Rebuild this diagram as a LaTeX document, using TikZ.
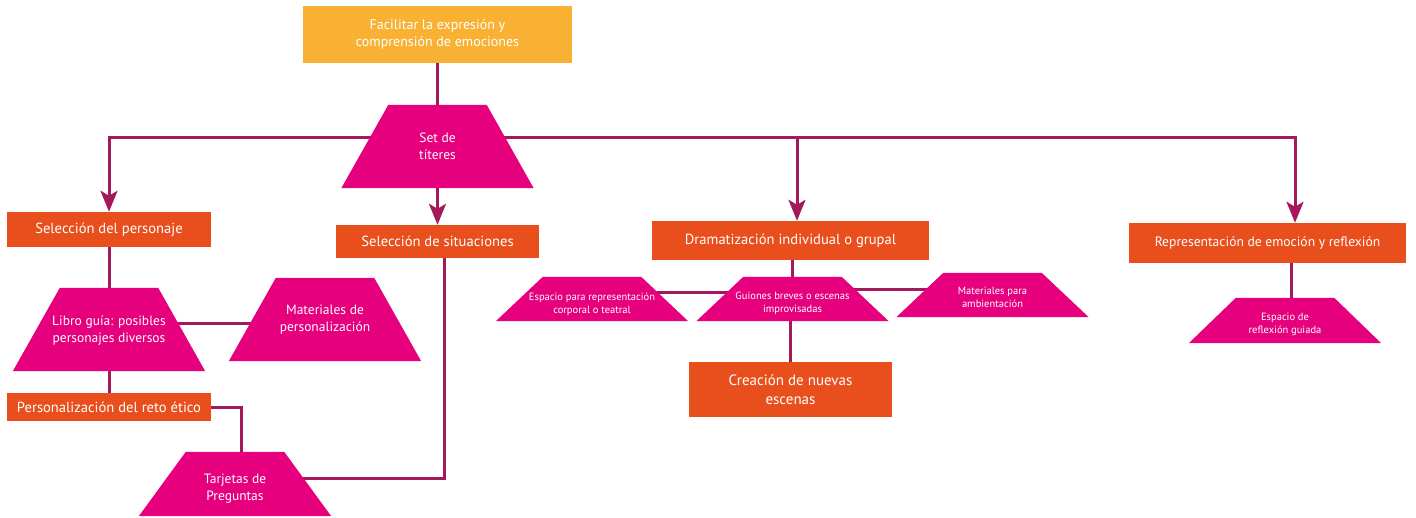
\documentclass[tikz,border=0pt]{standalone}
\usepackage{fontspec}
\setmainfont{PT Sans}
\usetikzlibrary{arrows.meta,calc}
\definecolor{cyel}{HTML}{F8B133}
\definecolor{corg}{HTML}{E94F1D}
\definecolor{cmag}{HTML}{E6007E}
\definecolor{cline}{HTML}{A3195B}
\pgfdeclarelayer{bg}
\pgfdeclarelayer{mid}
\pgfsetlayers{bg,mid,main}
\begin{document}
\begin{tikzpicture}[x=1pt,y=-1pt,
  box/.style={fill=corg, text=white, inner sep=0pt, align=center, font=\fontsize{14.6}{17}\selectfont},
  tz/.style={inner sep=0pt, minimum width=192pt, text=white, align=center, font=\fontsize{13.5}{17}\selectfont},
  tzs/.style={tz, font=\fontsize{10.5}{13}\selectfont},
  conn/.style={draw=cline, line width=3pt},
  arr/.style={conn, -{Stealth[length=21pt,width=17pt,inset=5pt]}}]
\useasboundingbox (0,0) rectangle (1416,518);
% boxes
\node[box, fill=cyel, minimum width=269pt, minimum height=57pt, font=\fontsize{14}{17}\selectfont] (top) at (437.5,34.5) {Facilitar la expresión y\\comprensión de emociones};
\node[box, minimum width=204pt, minimum height=35pt] (selp) at (109,229.5) {Selección del personaje};
\node[box, minimum width=203pt, minimum height=33pt] (sels) at (437.5,241.5) {Selección de situaciones};
\node[box, minimum width=204pt, minimum height=28pt] (pers) at (109,407) {Personalización del reto ético};
\node[box, minimum width=277pt, minimum height=39pt] (dram) at (790.5,240.5) {Dramatización individual o grupal};
\node[box, minimum width=203pt, minimum height=55pt, font=\fontsize{15}{19}\selectfont] (crea) at (790.5,389.5) {Creación de nuevas\\escenas};
\node[box, minimum width=277pt, minimum height=40pt, font=\fontsize{13.6}{17}\selectfont] (rep) at (1267.5,243) {Representación de emoción y reflexión};
% trapezoids (text shifted down by d, shape compensated in the fill)
\node[tz, minimum height=83pt] (set) at (437.5,146.5) {Set de\\títeres};
\node[tz, minimum height=83pt, yshift=-1.5pt] (libro) at (109,329.5) {Libro guía: posibles\\personajes diversos};
\node[tz, minimum height=83pt] (matp) at (325,319.5) {Materiales de\\personalización};
\node[tz, minimum height=64pt, yshift=-5pt] (tarj) at (235,484) {Tarjetas de\\Preguntas};
\node[tzs, minimum height=44pt, yshift=-5pt] (esp) at (592,299) {Espacio para representación\\corporal o teatral};
\node[tzs, minimum height=44pt, yshift=-4pt] (guion) at (792.5,299) {Guiones breves o escenas\\improvisadas};
\node[tzs, minimum height=44pt, yshift=-2pt] (matamb) at (992.5,295) {Materiales para\\ambientación};
\node[tzs, minimum height=45pt, yshift=-4pt] (refl) at (1285,320.5) {Espacio de\\reflexión guiada};
\begin{pgfonlayer}{mid}
\foreach \n/\d in {set/0,libro/1.5,matp/0,tarj/5,esp/5,guion/4,matamb/2,refl/4}
  \fill[cmag] ([yshift=\d pt]\n.south west) -- ([yshift=\d pt]\n.south east) -- ([xshift=-47pt,yshift=\d pt]\n.north east) -- ([xshift=47pt,yshift=\d pt]\n.north west) -- cycle;
\end{pgfonlayer}
% connectors
\coordinate (j1) at (109,138);
\coordinate (j2) at (797,138);
\coordinate (j3) at (1295,138);
\coordinate (s1) at (444,478);
\coordinate (g1) at (0,290);
\coordinate (g2) at (0,293);
\coordinate (g3) at (0,324);
\coordinate (k3) at (1291,0);
\begin{pgfonlayer}{bg}
\draw[conn] (top.south) -- (set.north);
\draw[arr] (set.center |- j1) -| (selp.north);
\draw[arr] (set.center |- j1) -| (j3 |- rep.north);
\draw[arr] (j2) -- (j2 |- dram.north);
\draw[arr] (set.south) -- (sels.north);
\draw[conn] (selp.south) -- (libro.center);
\draw[conn] (libro.center |- g3) -- (matp.center |- g3);
\draw[conn] (libro.center) -- (pers.north);
\draw[conn] (pers.east) -| ([xshift=6pt]tarj.center);
\draw[conn] (sels.south -| s1) |- (tarj.center |- s1);
\draw[conn] (dram.south -| guion) -- (guion.center);
\draw[conn] (esp.center |- g2) -- (guion.center |- g2);
\draw[conn] (guion.center |- g1) -- (matamb.center |- g1);
\draw[conn] (guion.center -| crea) -- (crea.north);
\draw[conn] (rep.south -| k3) -- (refl.center -| k3);
\end{pgfonlayer}
\end{tikzpicture}
\end{document}
